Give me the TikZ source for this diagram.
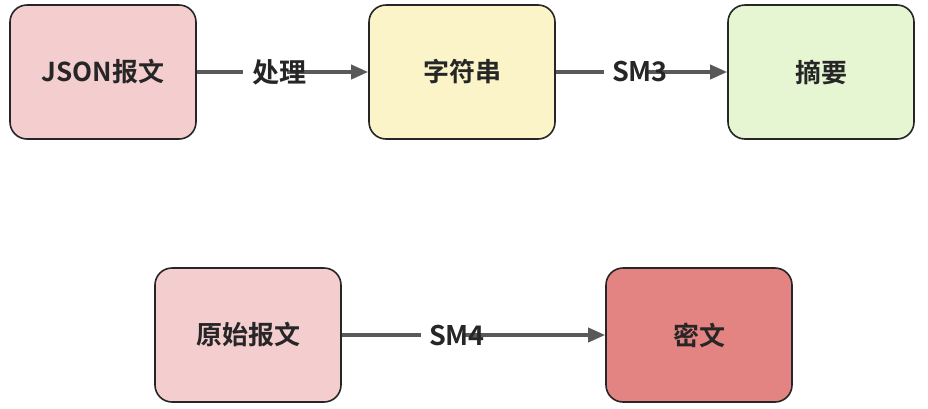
\documentclass[tikz,border=0pt]{standalone}
\usepackage{fontspec}
\setmainfont{Noto Sans CJK SC}[BoldFont={* Bold}]
\usetikzlibrary{arrows.meta,calc}
\definecolor{cpink}{HTML}{F4CDCF}
\definecolor{cyellow}{HTML}{FAF4C8}
\definecolor{cgreen}{HTML}{E6F6D2}
\definecolor{cred}{HTML}{E48482}
\definecolor{cline}{HTML}{595959}
\begin{document}
\begin{tikzpicture}[x=1pt,y=-1pt,
  box/.style={draw=black!85,line width=1.6pt,rounded corners=17pt,minimum width=186pt,minimum height=134pt,font=\bfseries\fontsize{26}{30}\selectfont,text=black!85},
  conn/.style={draw=cline,line width=3.6pt,-{Triangle[length=17pt,width=14pt]}},
  lab/.style={font=\bfseries\fontsize{27}{30}\selectfont,text=black!85,inner sep=0pt}]
\useasboundingbox (0,0) rectangle (928,408);
\node[box,fill=cpink] (json) at (103,72) {JSON报文};
\node[box,fill=cyellow] (str) at (462,72) {字符串};
\node[box,fill=cgreen] (dig) at (821,72) {摘要};
\node[box,fill=cpink] (raw) at (248,335) {原始报文};
\node[box,fill=cred] (enc) at (699,335) {密文};
\draw[conn] (json) -- (str);
\draw[conn] (str) -- (dig);
\draw[conn] (raw) -- (enc);
\coordinate (t1) at (279,72);
\coordinate (t2) at (640,72);
\coordinate (t3) at (457,335);
\fill[white] ($(t1)+(-36,-8)$) rectangle ($(t1)+(8,8)$);
\fill[white] ($(t2)+(-36,-8)$) rectangle ($(t2)+(8,8)$);
\fill[white] ($(t3)+(-36,-8)$) rectangle ($(t3)+(8,8)$);
\node[lab] (l1) at (t1) {处理};
\node[lab] (l2) at (t2) {SM3};
\node[lab] (l3) at (t3) {SM4};
\end{tikzpicture}
\end{document}
